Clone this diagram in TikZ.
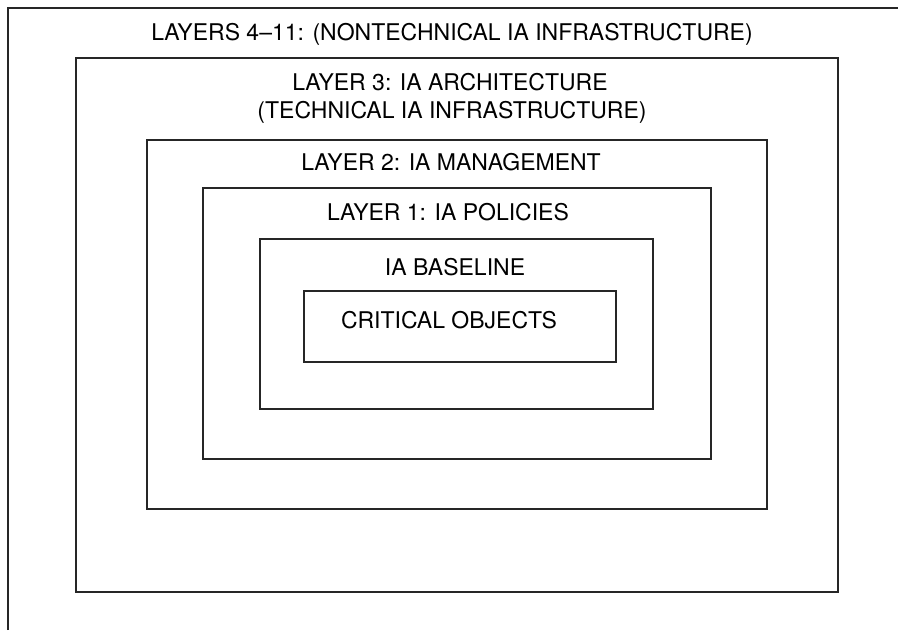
\documentclass[tikz,border=0pt]{standalone}
\usepackage{fontspec}
\setmainfont{TeX Gyre Heros}
\begin{document}
\begin{tikzpicture}[x=1pt,y=-1pt,
  layerbox/.style={draw=black!85, line width=1.8pt, anchor=north west, inner sep=0pt},
  caption/.style={anchor=base, inner sep=0pt, font=\fontsize{23}{28}\selectfont, align=center}]
  \useasboundingbox (0,0) rectangle (898,630);
  % open outer frame: only the top and left edges
  \draw[black!85, line width=1.8pt] (8,630) -- (8,8) -- (898,8);
  % nested layers
  \node[layerbox, minimum width=762pt, minimum height=534pt] (l3) at (75,57) {};
  \node[layerbox, minimum width=620pt, minimum height=369pt] (l2) at (146,139) {};
  \node[layerbox, minimum width=508pt, minimum height=271pt] (l1) at (202,187) {};
  \node[layerbox, minimum width=393pt, minimum height=170pt] (base) at (259,238) {};
  \node[layerbox, minimum width=312pt, minimum height=71pt] (crit) at (303,290) {};
  % captions
  \node[caption] (t4) at (452,40) {LAYERS 4–11: (NONTECHNICAL IA INFRASTRUCTURE)};
  \node[caption] (t3a) at (450,90) {LAYER 3: IA ARCHITECTURE};
  \node[caption] (t3b) at (452,118) {(TECHNICAL IA INFRASTRUCTURE)};
  \node[caption] (t2) at (451,170) {LAYER 2: IA MANAGEMENT};
  \node[caption] (t1) at (448,220) {LAYER 1: IA POLICIES};
  \node[caption] (tb) at (455,275) {IA BASELINE};
  \node[caption] (tc) at (449,328) {CRITICAL OBJECTS};
\end{tikzpicture}
\end{document}
